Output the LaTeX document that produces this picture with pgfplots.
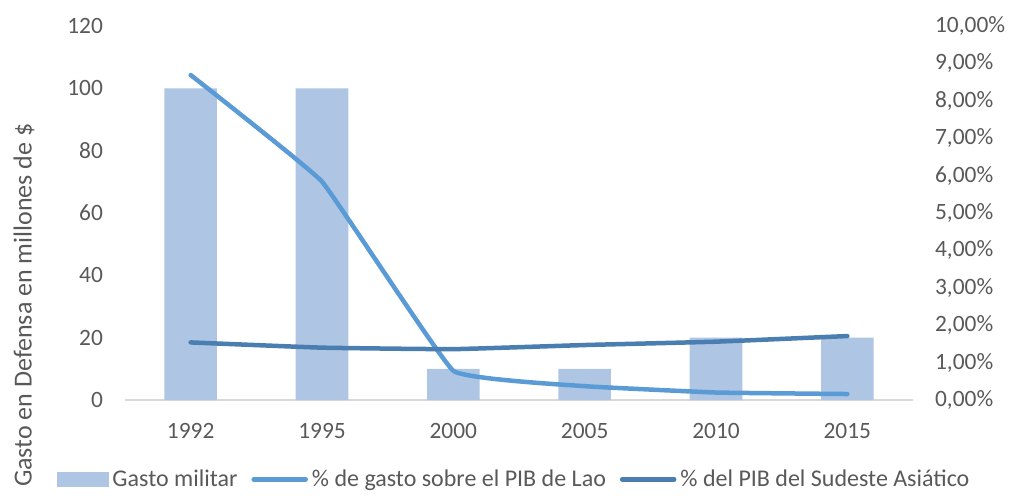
\documentclass[border=0pt]{standalone}
\usepackage{fontspec}
\setmainfont{Carlito}
\usepackage{pgfplots}
\pgfplotsset{compat=1.18}
\definecolor{barc}{HTML}{AEC6E4}
\definecolor{laoc}{HTML}{5B9BD5}
\definecolor{seac}{HTML}{4A7DB0}
\definecolor{txt}{HTML}{595959}
\definecolor{axc}{HTML}{D9D9D9}
\newcommand{\tf}{\fontsize{11.7}{14}\selectfont}
\newcommand{\lf}{\fontsize{12}{14.4}\selectfont}
\begin{document}
\begin{tikzpicture}
\path[use as bounding box] (-62.5pt,-47.5pt) rectangle (442.5pt,200pt);
\begin{axis}[
 scale only axis, width=394pt, height=187pt,
 xmin=-0.5, xmax=5.5, ymin=0, ymax=120,
 xtick={0,...,5}, xticklabels={1992,1995,2000,2005,2010,2015},
 ytick={0,20,...,120},
 axis x line*=bottom, axis y line*=left,
 x axis line style={-, draw=axc, line width=0.75pt},
 y axis line style={draw=none},
 major tick length=0pt,
 tick label style={font=\tf, text=txt},
 xticklabel style={yshift=-8pt},
 yticklabel style={xshift=-7.5pt},
 /pgf/number format/assume math mode=true,
 clip=false,
]
\addplot[ybar, bar width=0.4, fill=barc, draw=none] coordinates {(0,100)(1,100)(2,10)(3,10)(4,20)(5,20)};
\end{axis}
\begin{axis}[
 scale only axis, width=394pt, height=187pt,
 xmin=-0.5, xmax=5.5, ymin=0, ymax=10,
 axis x line=none, axis y line*=right,
 y axis line style={draw=none},
 major tick length=0pt,
 ytick={0,...,10},
 yticklabel={\pgfmathprintnumber[fixed,fixed zerofill,precision=2,use comma]{\tick}\%},
 yticklabel style={font=\tf, text=txt, xshift=7.5pt},
 /pgf/number format/assume math mode=true,
 clip=false,
 legend columns=3,
 legend cell align=left,
 legend style={at={(0.495,-0.212)}, anchor=center, draw=none, fill=none, font=\lf, text=txt,
   /tikz/every even column/.append style={column sep=5pt}},
]
\addlegendimage{legend image code/.code={\fill[barc] (0pt,-3.3pt) rectangle (25.5pt,3.3pt);}}
\addlegendentry{Gasto militar}
\addplot[laoc, line width=2.25pt, smooth, tension=0.15, line cap=round,
  legend image code/.code={\draw[laoc, line width=2.25pt, line cap=round] (0pt,0pt) -- (26pt,0pt);}]
  coordinates {(0,8.69)(1,5.84)(2,0.78)(3,0.37)(4,0.20)(5,0.16)};
\addlegendentry{\% de gasto sobre el PIB de Lao}
\addplot[seac, line width=2.25pt, smooth, tension=0.2, line cap=round,
  legend image code/.code={\draw[seac, line width=2.25pt, line cap=round] (0pt,0pt) -- (26pt,0pt);}]
  coordinates {(0,1.54)(1,1.40)(2,1.36)(3,1.47)(4,1.56)(5,1.71)};
\addlegendentry{\% del PIB del Sudeste Asiático}
\end{axis}
\node[rotate=90, anchor=east, inner sep=0pt, font=\fontsize{13}{15.6}\selectfont, text=txt] at (-50.5pt,138.5pt) {Gasto en Defensa en millones de \$};
\end{tikzpicture}
\end{document}
